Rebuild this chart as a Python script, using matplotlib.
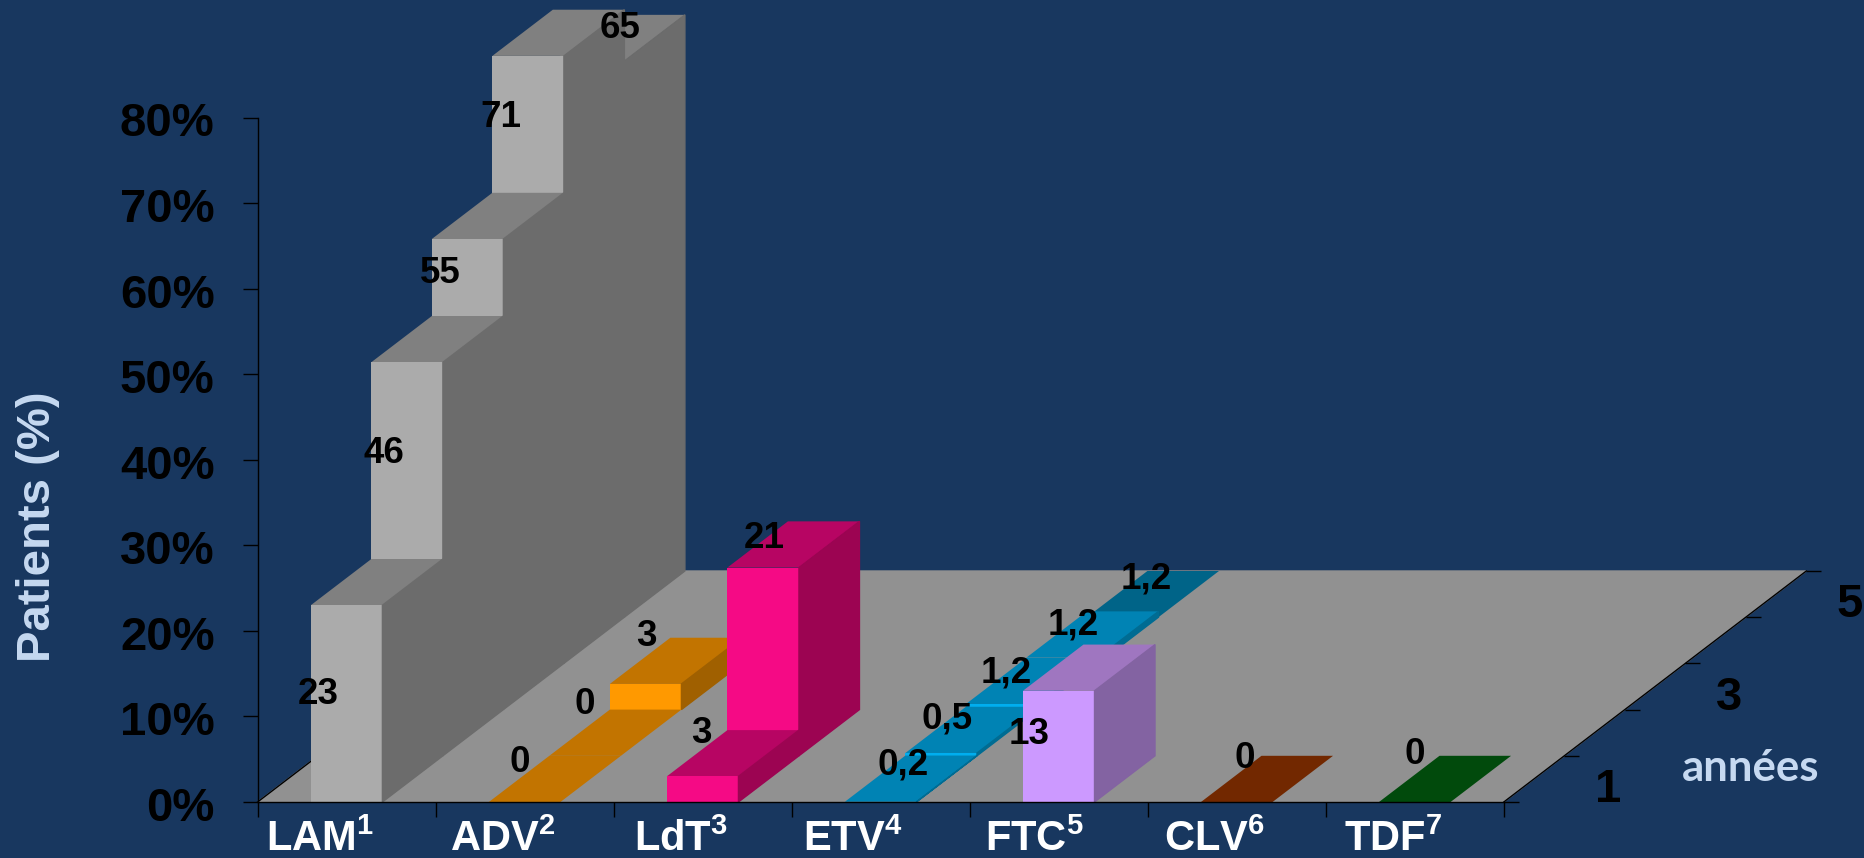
import matplotlib
matplotlib.use("Agg")
import matplotlib.pyplot as plt
from matplotlib.markers import TICKRIGHT
from matplotlib.transforms import ScaledTranslation

# ---- data ----
categories = ["LAM$^{1}$", "ADV$^{2}$", "LdT$^{3}$", "ETV$^{4}$", "FTC$^{5}$", "CLV$^{6}$", "TDF$^{7}$"]
y_ticks = [0, 10, 20, 30, 40, 50, 60, 70, 80]
y_tick_labels = ["0%", "10%", "20%", "30%", "40%", "50%", "60%", "70%", "80%"]
year_ticks = [0, 2, 4]
year_labels = ["1", "3", "5"]

lam_heights = [23, 46, 55, 71, 65]
adv_heights = [0, 0, 3]
ldt_heights = [3, 22]
etv_heights = [0.03, 0.33, 0.65, 0.68, 0]
ftc_heights = [13]
clv_heights = [0]
tdf_heights = [0]

lam_labels = ["23", "46", "55", "71", "65"]
adv_labels = ["0", "0", "3"]
ldt_labels = ["3", "21"]
etv_labels = ["0,2", "0,5", "1,2", "1,2", "1,2"]
ftc_labels = ["13"]
clv_labels = ["0"]
tdf_labels = ["0"]

series_heights = [lam_heights, adv_heights, ldt_heights, etv_heights,
                  ftc_heights, clv_heights, tdf_heights]
series_labels = [lam_labels, adv_labels, ldt_labels, etv_labels,
                 ftc_labels, clv_labels, tdf_labels]

# ---- styles ----
BG = "#18375F"
FLOOR = "#919191"
LIGHT = "#C6D9F1"
# front, top, side
palette = [
    ("#ABABAB", "#808080", "#6C6C6C"),
    ("#FF9900", "#C27400", "#A06000"),
    ("#F50A85", "#B70563", "#9C0452"),
    ("#00AEEF", "#0083B4", "#006C93"),
    ("#CC99FF", "#9F76C0", "#8363A2"),
    ("#722800", "#722800", "#5A2000"),
    ("#014A0C", "#014A0C", "#013A09"),
]
etv_last_top = "#006488"

# label offsets from each bar's front-top-left corner, pixels (right, down)
label_offsets = [
    [(7, 89), (13, 91), (8, 34), (9, 62), (67, -33)],
    [(31, -39), (35, -51), (37, -47)],
    [(34, -43), (37, -29)],
    [(58, -37), (42, -33.5), (40, -31), (47, -33), (59, -38)],
    [(6, 44)],
    [(44, -43)],
    [(36, -48)],
]
# category label nudges from the slot centre, pixels
category_nudge = [-27, -22, -22, -28, -24, -22, -22]

W, H = 1864, 858
X0, X1, Y0, Y80 = 257.6, 1503.8, 802.0, 117.5
PX = 0.72  # points per pixel at dpi 100
UNIT_X = (X1 - X0) / 7
DEPTH_X = 60.5 / UNIT_X
DEPTH_Y = 46.2 / ((Y0 - Y80) / 80)
MARGIN = 0.299
BAR_W = 0.402
ROWS = 5

plt.rcParams["font.family"] = ["Liberation Sans", "DejaVu Sans"]
plt.rcParams["font.weight"] = "bold"
plt.rcParams["mathtext.fontset"] = "custom"
plt.rcParams["mathtext.rm"] = "Liberation Sans:bold"
plt.rcParams["mathtext.bf"] = "Liberation Sans:bold"
plt.rcParams["mathtext.default"] = "rm"

fig = plt.figure(figsize=(W / 100, H / 100), dpi=100, facecolor=BG)
ax = fig.add_axes([X0 / W, (H - Y0) / H, (X1 - X0) / W, (Y0 - Y80) / H])
ax.set_xlim(0, 7)
ax.set_ylim(0, 80)
ax.patch.set_alpha(0)
for s in ("top", "right"):
    ax.spines[s].set_visible(False)
for s in ("left", "bottom"):
    ax.spines[s].set_linewidth(1.0)
    ax.spines[s].set_color("black")


def proj(c, r, v):
    return c + r * DEPTH_X, v + r * DEPTH_Y


def poly(points, color, z=1.0, lw=1.0):
    xs, ys = zip(*points)
    ax.fill(xs, ys, facecolor=color, edgecolor=color if lw else "none", linewidth=lw,
            clip_on=False, zorder=z)


# floor
poly([proj(0, 0, 0), proj(7, 0, 0), proj(7, ROWS, 0), proj(0, ROWS, 0)], FLOOR, 0.5)
fx, fy = zip(proj(0, 0, 0), proj(0, ROWS, 0))
ax.plot(fx, fy, color="black", lw=1.0, clip_on=False, zorder=0.8)

# bars, far row first
for r in range(ROWS - 1, -1, -1):
    for c, heights in enumerate(series_heights):
        if r >= len(heights):
            continue
        h = heights[r]
        l, rt = c + MARGIN, c + MARGIN + BAR_W
        front, top, side = palette[c]
        if c == 3 and r == ROWS - 1:
            top = etv_last_top
        poly([proj(l, r, h), proj(rt, r, h), proj(rt, r + 1, h), proj(l, r + 1, h)], top, lw=0)
        if h > 0:
            poly([proj(l, r, 0), proj(rt, r, 0), proj(rt, r, h), proj(l, r, h)], front, lw=0)
            poly([proj(rt, r, 0), proj(rt, r + 1, 0), proj(rt, r + 1, h), proj(rt, r, h)], side, lw=1.0)

# value labels
for c, (heights, labels, offs) in enumerate(zip(series_heights, series_labels, label_offsets)):
    for r, (h, txt, (dx, dy)) in enumerate(zip(heights, labels, offs)):
        ax.annotate(txt, proj(c + MARGIN, r, h), xytext=(dx * PX, -dy * PX),
                    textcoords="offset points", ha="center", va="center",
                    fontsize=26.5, color="black", annotation_clip=False, zorder=5)

# value axis
ax.set_yticks(y_ticks)
ax.set_yticklabels(y_tick_labels, fontsize=34, color="black", fontweight="bold")
ax.tick_params(axis="y", length=15 * PX, width=1.0, color="black", pad=28 * PX)
shift = ScaledTranslation(0, -2 * PX / 72, fig.dpi_scale_trans)
for t in ax.get_yticklabels():
    t.set_transform(t.get_transform() + shift)

# category axis
ax.set_xticks(range(8))
ax.set_xticklabels([])
ax.set_xticks([i + 0.5 + n / UNIT_X for i, n in enumerate(category_nudge)], minor=True)
ax.set_xticklabels(categories, minor=True, fontsize=30, color="white", fontweight="bold")
ax.tick_params(axis="x", which="major", length=15 * PX, width=1.0, color="black")
ax.tick_params(axis="x", which="minor", length=0, pad=18 * PX)

# depth axis
ex, ey = zip(proj(7, 0, 0), proj(7, ROWS, 0))
ax.plot(ex, ey, color="black", lw=1.0, clip_on=False, zorder=2)
tk = [proj(7, r, 0) for r in range(ROWS + 1)]
ax.plot([p[0] for p in tk], [p[1] for p in tk], ls="none", marker=TICKRIGHT,
        markersize=15 * PX, markeredgewidth=1.0, color="black", clip_on=False, zorder=2)
for r, txt in zip(year_ticks, year_labels):
    ax.annotate(txt, proj(7, r, 0), xytext=(104 * PX, 12 * PX), textcoords="offset points",
                ha="center", va="center", fontsize=34, color="black", annotation_clip=False)

# titles
fig.text(38 / W, 1 - 527 / H, "Patients (%)", rotation=90, ha="center", va="center",
         fontsize=34, color=LIGHT, fontweight="bold")
fig.text(1751 / W, 1 - 768 / H, "années", ha="center", va="center", fontsize=31.5,
         color=LIGHT, fontweight="bold", family=["Lato", "DejaVu Sans"])

fig.savefig("out.png", dpi=100, facecolor=BG)
